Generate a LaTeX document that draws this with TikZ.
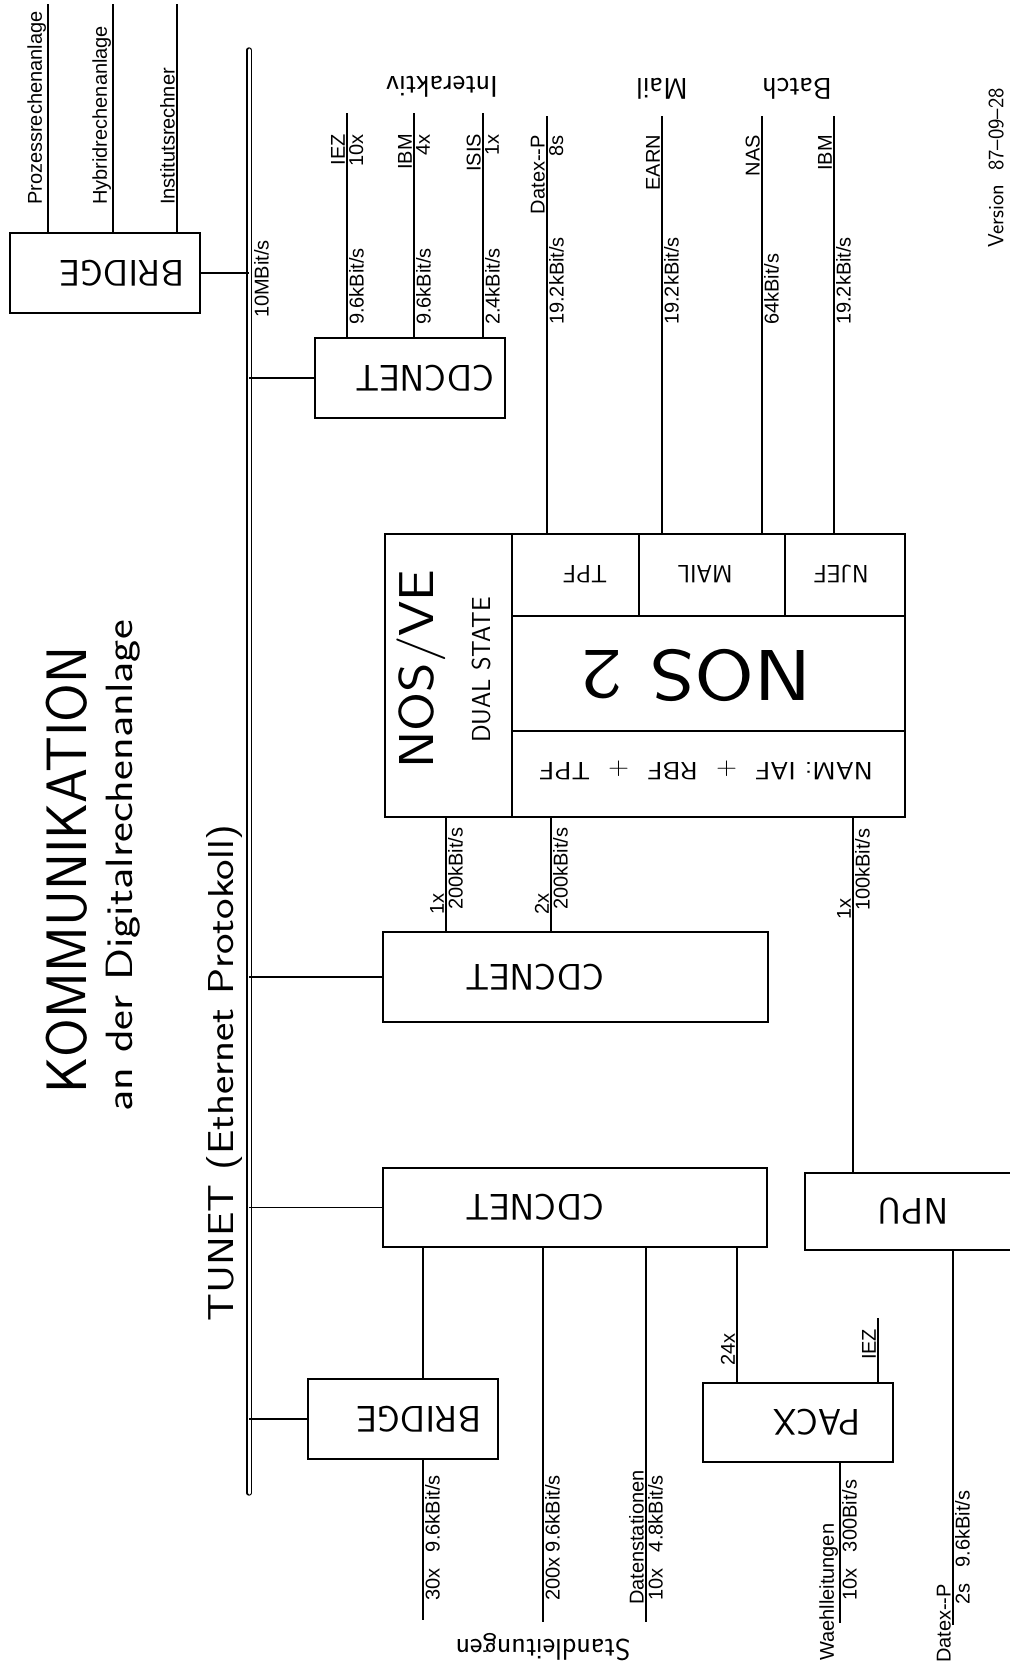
\documentclass[tikz,border=0pt]{standalone}
\usepackage{fontspec}
\usepackage{graphicx}
\newfontfamily\helv{Liberation Sans}

\begin{document}
\begin{tikzpicture}[x=1pt,y=-1pt,line width=1.2pt,
    box/.style={draw,inner sep=0pt},
    boxtext/.style={font=\sffamily\fontsize{37}{37}\selectfont,rotate=180,inner sep=0pt},
    celltext/.style={font=\sffamily\fontsize{25}{25}\selectfont,rotate=180,inner sep=0pt},
    side/.style={font=\sffamily\fontsize{30}{30}\selectfont,rotate=180,inner sep=0pt},
    lbl/.style={font=\helv\fontsize{20}{20}\selectfont,rotate=90,inner sep=1.5pt}]
\useasboundingbox (0,0) rectangle (1009,1667);

% titles
\node[font=\sffamily\fontsize{57}{57}\selectfont,rotate=90,inner sep=0pt] (title) at (67,870) {\scalebox{0.98}[1]{KOMMUNIKATION}};
\node[font=\sffamily\fontsize{38}{38}\selectfont,rotate=90,inner sep=0pt] (subtitle) at (123,866) {\scalebox{1.24}[1]{an der Digitalrechenanlage}};
\node[font=\sffamily\fontsize{36}{36}\selectfont,rotate=90,inner sep=0pt] (tunet) at (225,1073) {\scalebox{1.21}[1]{TUNET (Ethernet Protokoll)}};
\node[font=\sffamily\fontsize{22}{22}\selectfont,rotate=90,inner sep=0pt] (ver) at (996,168) {Version\ \ 87--09--28};

% bus
\coordinate (busT) at (249,50);
\coordinate (busB) at (249,1493);
\draw[double,double distance=3pt,line cap=round] (busT) -- (busB);
\node[lbl,anchor=north west] (busr) at (252,320) {10MBit/s};

% bridge oben
\node[box,minimum width=190,minimum height=80] (brA) at (105,273) {};
\node[boxtext] (brAt) at (122,273) {BRIDGE};
\draw (brA.east) -- (brA.east -| busT);
\foreach \x/\nm in {48/Prozessrechenanlage,113/Hybridrechenanlage,177/Institutsrechner}{
  \coordinate (br\x) at (\x,4);
  \draw (brA.north -| br\x) -- (br\x);
  \node[lbl,anchor=south west] (brl\x) at (\x,207) {\nm};
}

% cdcnet oben
\node[box,minimum width=190,minimum height=80] (cdcA) at (410,378) {};
\node[boxtext] (cdcAt) at (425,378) {CDCNET};
\draw (cdcA.west) -- (cdcA.west -| busT);
\foreach \x/\nm/\cnt/\rate in {347/IEZ/10x/{9.6kBit/s},414/IBM/4x/{9.6kBit/s},483/ISIS/1x/{2.4kBit/s}}{
  \coordinate (iA\x) at (\x,113);
  \draw (cdcA.north -| iA\x) -- (iA\x);
  \node[lbl,anchor=south east] (nA\x) at (\x,132) {\nm};
  \node[lbl,anchor=north east] (cA\x) at (\x,132) {\cnt};
  \node[lbl,anchor=north west] (rA\x) at (\x,327) {\rate};
}
\node[side] (inter) at (442,87) {Interaktiv};

% NOS/VE dual state
\node[box,minimum width=127,minimum height=283] (nosve) at (448.5,675.5) {};
\node[box,minimum width=127,minimum height=82] (tpf) at (575.5,575) {};
\node[box,minimum width=146,minimum height=82] (mail) at (712,575) {};
\node[box,minimum width=120,minimum height=82] (njef) at (845,575) {};
\node[box,minimum width=393,minimum height=115] (nos2) at (708.5,673.5) {};
\node[box,minimum width=393,minimum height=86] (nam) at (708.5,774) {};
\node[font=\sffamily\fontsize{49}{49}\selectfont,rotate=90,inner sep=0pt] (nosvet) at (421,669) {\scalebox{1.15}[1]{NOS/VE}};
\node[font=\sffamily\fontsize{26}{26}\selectfont,rotate=90,inner sep=0pt] (dual) at (481,670) {DUAL STATE};
\node[celltext] (tpft) at (585,574) {TPF};
\node[celltext] (mailt) at (705,574) {MAIL};
\node[celltext] (njeft) at (841,574) {NJEF};
\node[font=\sffamily\fontsize{72}{72}\selectfont,rotate=180,inner sep=0pt] (nos2t) at (697,675) {\scalebox{1.2}[1]{NOS\ 2}};
\node[celltext] (namt) at (706,770) {\scalebox{1.15}[1]{NAM:\ IAF\ \ +\ \ RBF\ \ +\ \ TPF}};

\foreach \x/\cell/\nm/\rate in {547/tpf/{Datex--P}/{19.2kBit/s},662/mail/EARN/{19.2kBit/s},762/mail/NAS/{64kBit/s},834/njef/IBM/{19.2kBit/s}}{
  \coordinate (iB\x) at (\x,116);
  \draw (\cell.north -| iB\x) -- (iB\x);
  \node[lbl,anchor=south east] (nB\x) at (\x,133) {\nm};
  \node[lbl,anchor=north west] (rB\x) at (\x,327) {\rate};
}
\node[lbl,anchor=north east] (dxs) at (547,133) {8s};
\node[side] (mailw) at (662,89) {Mail};
\node[side] (batch) at (797,89) {Batch};

% cdcnet mitte
\node[box,minimum width=385,minimum height=90] (cdcB) at (575.5,977) {};
\node[boxtext] (cdcBt) at (535,977) {CDCNET};
\draw (cdcB.west) -- (cdcB.west -| busT);
\coordinate (m1) at (446,0);
\coordinate (m2) at (551,0);
\coordinate (m3) at (853,0);
\draw (cdcB.north -| m1) -- (nosve.south -| m1);
\draw (cdcB.north -| m2) -- (nam.south -| m2);
\node[lbl,anchor=south west] (m1c) at (446,917) {1x};
\node[lbl,anchor=north west] (m1r) at (446,912) {200kBit/s};
\node[lbl,anchor=south west] (m2c) at (551,917) {2x};
\node[lbl,anchor=north west] (m2r) at (551,912) {200kBit/s};

% NPU
\node[box,minimum width=230,minimum height=77] (npu) at (920,1211.5) {};
\node[boxtext] (npuT) at (913,1211) {NPU};
\draw (npu.north -| m3) -- (nam.south -| m3);
\node[lbl,anchor=south west] (m3c) at (853,922) {1x};
\node[lbl,anchor=north west] (m3r) at (853,913) {100kBit/s};

% cdcnet unten
\node[box,minimum width=384,minimum height=79] (cdcC) at (575,1207.5) {};
\node[boxtext] (cdcCt) at (535,1207.5) {CDCNET};
\draw (cdcC.west) -- (cdcC.west -| busT);

% bridge unten
\node[box,minimum width=190,minimum height=80] (brB) at (403,1419) {};
\node[boxtext] (brBt) at (419,1419) {BRIDGE};
\draw (brB.west) -- (brB.west -| busT);

% pacx
\node[box,minimum width=190,minimum height=79] (pacx) at (798,1422.5) {};
\node[boxtext] (pacxt) at (817,1422) {PACX};

\coordinate (s1) at (423,1620);
\coordinate (s2) at (543,1622);
\coordinate (s3) at (646,1622);
\coordinate (p1) at (737,0);
\coordinate (iez) at (878,1318);
\coordinate (w1) at (840,1623);
\coordinate (d2) at (953,1625);
\draw (cdcC.south -| s1) -- (brB.north -| s1);
\draw (brB.south -| s1) -- (s1);
\draw (cdcC.south -| s2) -- (s2);
\draw (cdcC.south -| s3) -- (s3);
\draw (cdcC.south -| p1) -- (pacx.north -| p1);
\draw (pacx.north -| iez) -- (iez);
\draw (pacx.south -| w1) -- (w1);
\draw (npu.south -| d2) -- (d2);

\node[lbl,anchor=north west] (s1r) at (423,1603) {30x\ \ \ 9.6kBit/s};
\node[lbl,anchor=north west] (s2r) at (543,1603) {200x 9.6kBit/s};
\node[lbl,anchor=south west] (s3n) at (646,1607) {Datenstationen};
\node[lbl,anchor=north west] (s3r) at (646,1603) {10x\ \ \ 4.8kBit/s};
\node[lbl,anchor=south west] (p1c) at (737,1368) {24x};
\node[lbl,anchor=south west] (iezn) at (878,1362) {IEZ};
\node[lbl,anchor=south west] (w1n) at (840,1663) {Waehlleitungen};
\node[lbl,anchor=north west] (w1r) at (840,1603) {10x\ \ \ 300Bit/s};
\node[lbl,anchor=south west] (d2n) at (953,1665) {Datex--P};
\node[lbl,anchor=north west] (d2r) at (953,1607) {2s\ \ \ 9.6kBit/s};
\node[side] (stand) at (543,1647) {Standleitungen};
\end{tikzpicture}
\end{document}
